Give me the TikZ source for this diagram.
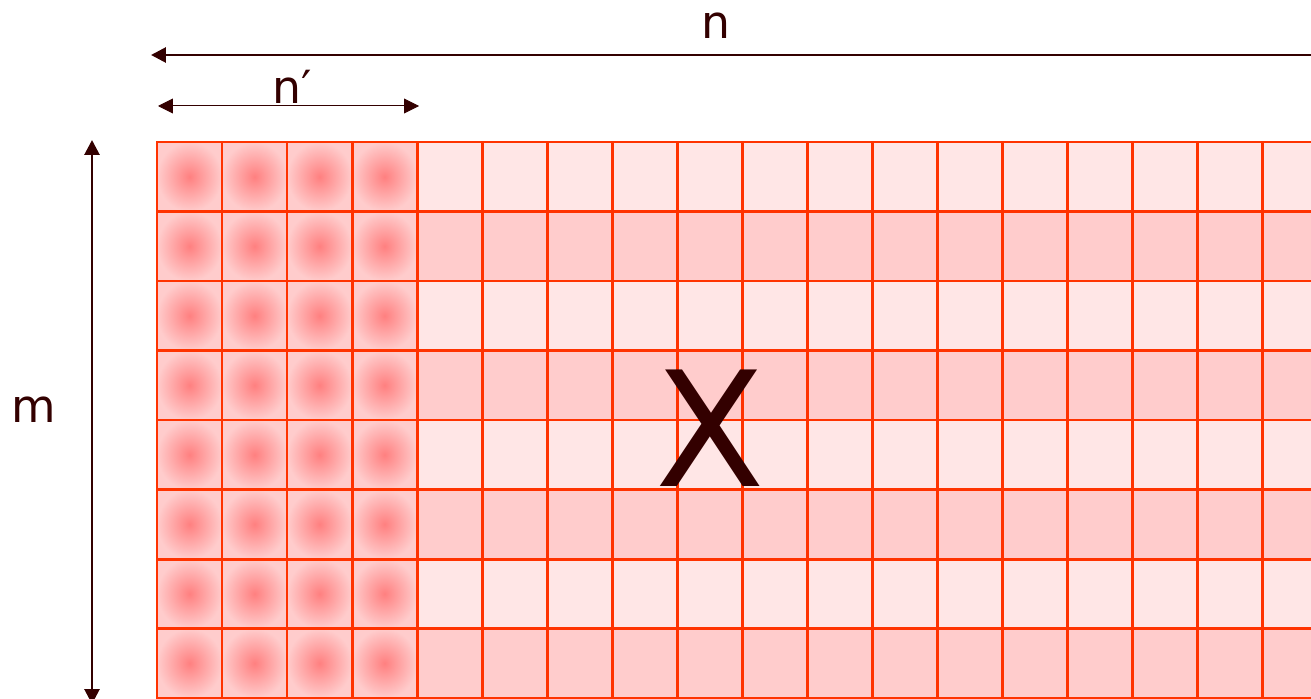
\documentclass[tikz,border=0pt]{standalone}
\usepackage{fontspec}
\setmainfont{DejaVu Sans}
\usepackage{xcolor}
\usetikzlibrary{arrows.meta, positioning}

\definecolor{gridline}{HTML}{FF3300}
\definecolor{rowlight}{HTML}{FFE6E6}
\definecolor{rowdark}{HTML}{FFCCCC}
\definecolor{blobcore}{HTML}{FF8080}
\definecolor{ink}{HTML}{330000}

\begin{document}
\begin{tikzpicture}[
        >={Triangle[length=8.5pt, width=8.5pt]},
        cell/.style={draw=gridline, line width=1.7pt, minimum width=1.3cm, minimum height=1.39cm, inner sep=0pt, outer sep=0pt, anchor=north west},
        blob/.style={cell, shading=radial, inner color=blobcore, outer color=rowdark},
        dimline/.style={draw=ink, line width=1.6pt},
        lbl/.style={text=ink, font=\fontsize{26}{30}\selectfont}
    ]
    \useasboundingbox (0,0) rectangle (26.22,13.96);

    % the matrix X, cut at the right and bottom edge
    \begin{scope}
        \clip (0,0) rectangle (26.22,13.96);
        \foreach \r in {1,...,8} {
            \foreach \c in {1,...,18} {
                \ifodd\r \def\rowfill{rowlight}\else \def\rowfill{rowdark}\fi
                \ifnum\c<5
                    \node[blob] (c\r-\c) at ({3.14+(\c-1)*1.3}, {11.12-(\r-1)*1.39}) {};
                \else
                    \node[cell, fill=\rowfill] (c\r-\c) at ({3.14+(\c-1)*1.3}, {11.12-(\r-1)*1.39}) {};
                \fi
            }
        }
    \end{scope}
    \node[text=ink, font=\fontsize{91}{100}\selectfont, anchor=base] (xlab) at (14.2,4.24) {X};

    % n
    \coordinate (nleft) at (3.02,12.86);
    \coordinate (nright) at (26.6,12.86);
    \draw[dimline, ->] (nright) -- (nleft);
    \node[lbl] (nlab) at (14.32,13.44) {n};

    % n'
    \coordinate (pleft) at (3.16,11.84);
    \coordinate (pright) at (8.38,11.84);
    \draw[draw=ink, line width=0.5pt, double=white, double distance=0.5pt, <->] (pleft) -- (pright);
    \node[lbl, anchor=base] (plab) at (5.84,11.88) {n′};

    % m
    \coordinate (mtop) at (1.84,11.16);
    \coordinate (mbot) at (1.84,-0.12);
    \draw[dimline, <->] (mtop) -- (mbot);
    \node[lbl] (mlab) at (0.68,5.76) {m};
\end{tikzpicture}
\end{document}
